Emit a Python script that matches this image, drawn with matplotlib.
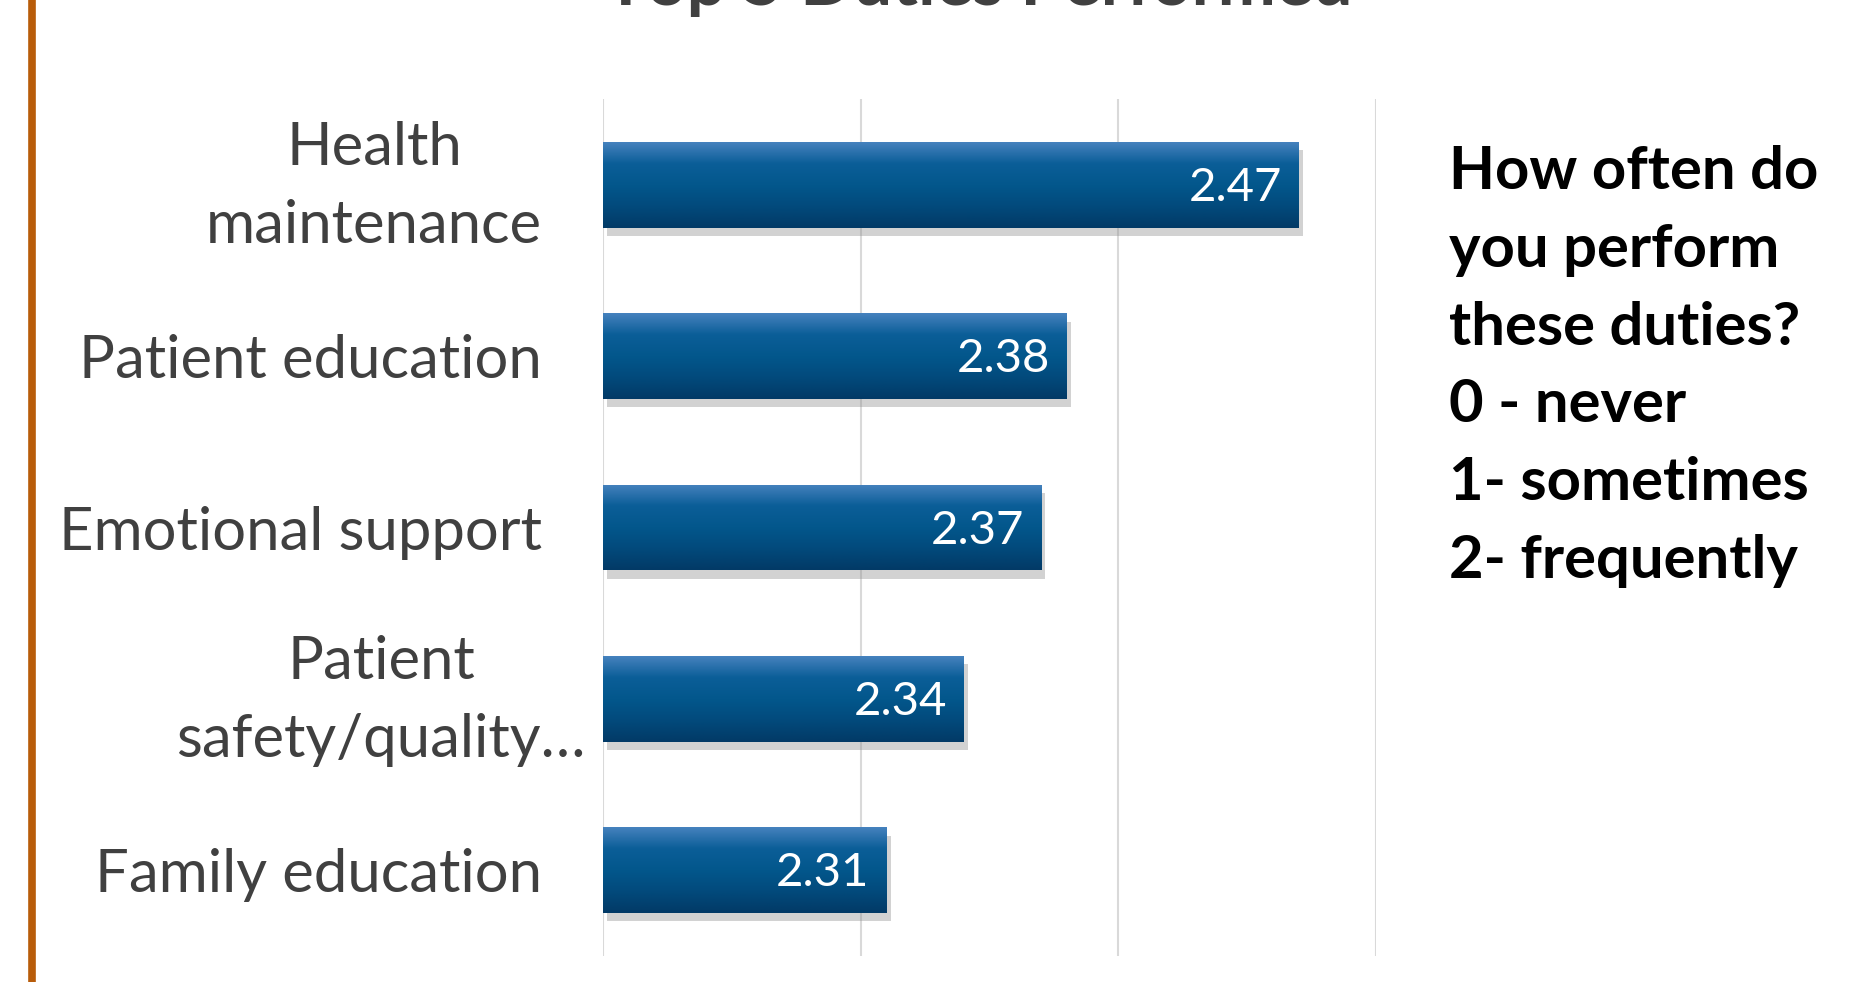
import numpy as np
import matplotlib.pyplot as plt
import matplotlib.patheffects as pe
import matplotlib.transforms as mtransforms
from matplotlib.colors import LinearSegmentedColormap

# ==== data ====
duties = ["Health\nmaintenance", "Patient education", "Emotional support",
          "Patient\nsafety/quality…", "Family education"]
scores = [2.47, 2.38, 2.37, 2.34, 2.31]
title = "Top 5 Duties Performed"
note = "How often do\nyou perform\nthese duties?\n0 - never\n1- sometimes\n2- frequently"

FONT = "Lato"
W, H = 1866, 982
X0, X1 = 2.2, 2.5

fig = plt.figure(figsize=(W / 100, H / 100), dpi=100)
ax = fig.add_axes([603 / W, 1 - 956 / H, (1376 - 603) / W, (956 - 99) / H])

y = np.arange(len(duties))
bars = ax.barh(y, np.subtract(scores, X0), height=0.5, left=X0, color="#03578C", zorder=3,
               path_effects=[pe.SimplePatchShadow(offset=(3, -6), shadow_rgbFace="#909090", alpha=0.4),
                             pe.Normal()])

# vertical gradient on each bar
grad = np.linspace(0, 1, 256).reshape(-1, 1)
cmap = LinearSegmentedColormap.from_list("bar", ["#4682BE", "#0B5E98", "#03578C", "#024A7C", "#023A66"])
for b in bars:
    x0, y0 = b.get_x(), b.get_y()
    w, h = b.get_width(), b.get_height()
    im = ax.imshow(grad, extent=[x0, x0 + w, y0 + h, y0], aspect="auto", cmap=cmap, zorder=4)
    im.set_clip_path(b)

ax.set_xlim(X0, X1)
ax.set_ylim(len(duties) - 0.5, -0.5)

# value labels
for yi, v in zip(y, scores):
    ax.annotate(f"{v:.2f}", (v, yi), xytext=(-17, -3), textcoords="offset pixels",
                ha="right", va="center", color="white", fontsize=34, family=FONT, zorder=5)

ax.set_xticks([2.2, 2.3, 2.4, 2.5])
ax.set_xticklabels([])
ax.grid(axis="x", color="#D9D9D9", linewidth=1.5, zorder=0)
ax.tick_params(length=0)
for s in ax.spines.values():
    s.set_visible(False)

ax.set_yticks(y)
labels = ax.set_yticklabels(duties, fontsize=43, family=FONT, color="#404040",
                            multialignment="center", linespacing=1.55)
ax.tick_params(axis="y", pad=44)
# two-line labels sit a bit higher; the truncated one sticks out to the right
for lab in labels:
    if "\n" in lab.get_text():
        dx = 44 if "…" in lab.get_text() else 0
        lab.set_transform(lab.get_transform() +
                          mtransforms.ScaledTranslation(dx / 100, 15 / 100, fig.dpi_scale_trans))

# title (cut off at top like the reference)
fig.text(979 / W, 1 - 5 / H, title, ha="center", va="baseline", fontsize=50,
         fontweight="bold", family=FONT, color="#404040")

# note on the right
fig.text(1449 / W, 1 - 145 / H, note, ha="left", va="top", fontsize=43,
         fontweight="bold", family=FONT, color="black", linespacing=1.54)

# orange rule on the left
fig.add_artist(plt.Line2D([32 / W, 32 / W], [0, 1], color="#B85C0A", linewidth=5.5))

fig.savefig("out.png", dpi=100)
